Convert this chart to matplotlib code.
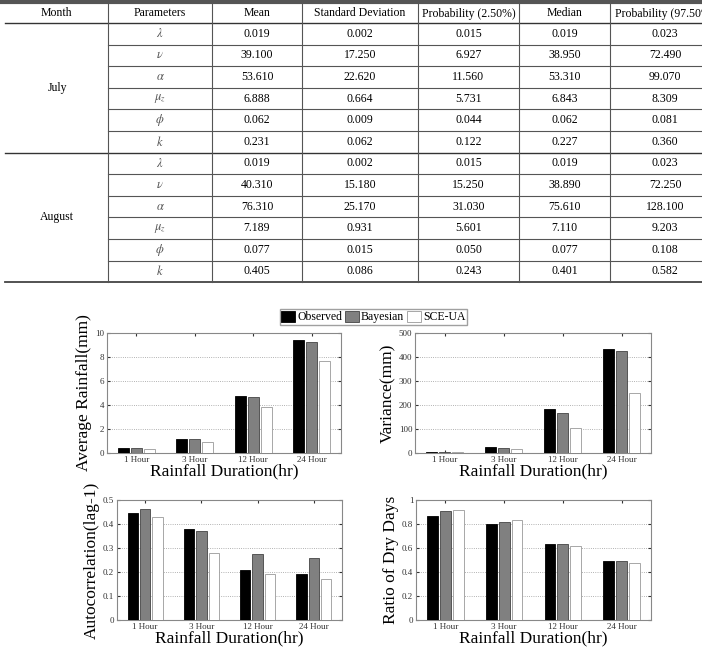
import numpy as np
import matplotlib.pyplot as plt

plt.rcParams['font.family'] = ['Liberation Serif', 'DejaVu Serif']
plt.rcParams['mathtext.fontset'] = 'stix'

# tabela de parametros
col_titles = ['Month', 'Parameters', 'Mean', 'Standard Deviation', 'Probability (2.50%)', 'Median', 'Probability (97.50%)']
months = ['July', 'August']
params = [r'$\lambda$', r'$\nu$', r'$\alpha$', r'$\mu_z$', r'$\phi$', r'$k$']
july_vals = [
    ['0.019', '0.002', '0.015', '0.019', '0.023'],
    ['39.100', '17.250', '6.927', '38.950', '72.490'],
    ['53.610', '22.620', '11.560', '53.310', '99.070'],
    ['6.888', '0.664', '5.731', '6.843', '8.309'],
    ['0.062', '0.009', '0.044', '0.062', '0.081'],
    ['0.231', '0.062', '0.122', '0.227', '0.360'],
]
august_vals = [
    ['0.019', '0.002', '0.015', '0.019', '0.023'],
    ['40.310', '15.180', '15.250', '38.890', '72.250'],
    ['76.310', '25.170', '31.030', '75.610', '128.100'],
    ['7.189', '0.931', '5.601', '7.110', '9.203'],
    ['0.077', '0.015', '0.050', '0.077', '0.108'],
    ['0.405', '0.086', '0.243', '0.401', '0.582'],
]

# dados dos graficos de barras
duracoes = ['1 Hour', '3 Hour', '12 Hour', '24 Hour']
series = ['Observed', 'Bayesian', 'SCE-UA']
media_obs = [0.40, 1.20, 4.75, 9.45]
media_bay = [0.40, 1.20, 4.65, 9.25]
media_sce = [0.35, 0.95, 3.85, 7.70]
var_obs = [5, 25, 182, 432]
var_bay = [4, 22, 165, 427]
var_sce = [4, 17, 105, 250]
auto_obs = [0.447, 0.380, 0.207, 0.193]
auto_bay = [0.463, 0.372, 0.275, 0.260]
auto_sce = [0.430, 0.280, 0.190, 0.170]
seco_obs = [0.87, 0.80, 0.635, 0.49]
seco_bay = [0.91, 0.815, 0.635, 0.495]
seco_sce = [0.92, 0.83, 0.615, 0.475]

W, H = 702, 653
fig = plt.figure(figsize=(W / 100, H / 100), dpi=100)

# ---- tabela desenhada em coordenadas de pixel ----
tab = fig.add_axes([0, 0, 1, 1])
tab.set_xlim(0, W)
tab.set_ylim(H, 0)
tab.axis('off')

col_edges = [5, 108, 212, 302, 418, 519, 610, 720]
top, head_bot, row_h = 2, 23, 21.6
bottom = head_bot + 12 * row_h

tab.plot([0, W], [top, top], color='#555555', lw=3, clip_on=False)
tab.plot([5, W], [head_bot, head_bot], color='#333333', lw=1)
tab.plot([5, W], [head_bot + 6 * row_h, head_bot + 6 * row_h], color='#333333', lw=1)
tab.plot([5, W], [bottom, bottom], color='#444444', lw=1.3)
for i in range(1, 12):
    if i == 6:
        continue
    y = head_bot + i * row_h
    tab.plot([108, W], [y, y], color='#555555', lw=0.8)
for x in col_edges[1:-1]:
    tab.plot([x, x], [top + 1, bottom], color='#555555', lw=0.8)

for j, t in enumerate(col_titles):
    xc = (col_edges[j] + col_edges[j + 1]) / 2
    tab.text(xc, (top + head_bot) / 2 + 1, t, ha='center', va='center', fontsize=8.5)

for m, (mes, vals) in enumerate(zip(months, [july_vals, august_vals])):
    y0 = head_bot + m * 6 * row_h
    tab.text(57, y0 + 3 * row_h, mes, ha='center', va='center', fontsize=8.5)
    for i in range(6):
        yc = y0 + (i + 0.5) * row_h
        tab.text(160, yc, params[i], ha='center', va='center', fontsize=9, color='#555555')
        for j, v in enumerate(vals[i]):
            xc = (col_edges[j + 2] + col_edges[j + 3]) / 2
            tab.text(xc, yc, v, ha='center', va='center', fontsize=8.5)

# ---- graficos ----
def ax_pos(x0, x1, y0, y1):
    return [x0 / W, 1 - y1 / H, (x1 - x0) / W, (y1 - y0) / H]

paineis = [
    (ax_pos(107, 341, 333, 453), [media_obs, media_bay, media_sce], 10, [0, 2, 4, 6, 8, 10], 'Average Rainfall(mm)'),
    (ax_pos(415, 651, 333, 453), [var_obs, var_bay, var_sce], 500, [0, 100, 200, 300, 400, 500], 'Variance(mm)'),
    (ax_pos(117, 342, 500, 620), [auto_obs, auto_bay, auto_sce], 0.5, [0, 0.1, 0.2, 0.3, 0.4, 0.5], 'Autocorrelation(lag-1)'),
    (ax_pos(416, 651, 500, 620), [seco_obs, seco_bay, seco_sce], 1, [0, 0.2, 0.4, 0.6, 0.8, 1], 'Ratio of Dry Days'),
]
cores = ['black', '#808080', 'white']
bordas = ['black', '#444444', '#999999']
largura = 0.185
offs = [-0.22, 0, 0.22]
x = np.arange(1, 5)

for pos, dados, ymax, yt, ylab in paineis:
    ax = fig.add_axes(pos)
    for k in range(3):
        ax.bar(x + offs[k], dados[k], width=largura, color=cores[k], edgecolor=bordas[k], lw=0.6,
               label=series[k], zorder=3)
    ax.set_xlim(0.5, 4.5)
    ax.set_ylim(0, ymax)
    ax.set_yticks(yt)
    ax.set_yticklabels([('%g' % v) for v in yt])
    ax.set_xticks(x)
    ax.set_xticklabels(duracoes)
    ax.yaxis.grid(True, linestyle=':', color='#999999', lw=0.6, zorder=0)
    ax.tick_params(direction='in', top=True, right=True, length=2, labelsize=6.5, pad=2, colors='#333333')
    for s in ax.spines.values():
        s.set_color('#888888')
        s.set_linewidth(0.8)
    ax.set_ylabel(ylab, fontsize=12.5, labelpad=2)
    ax.set_xlabel('Rainfall Duration(hr)', fontsize=12.5, labelpad=0)
    if ylab == 'Average Rainfall(mm)':
        handles, labels = ax.get_legend_handles_labels()

fig.legend(handles, labels, loc='center', bbox_to_anchor=(373.5 / W, 1 - 317 / H), ncol=3,
           fontsize=8.5, frameon=True, fancybox=False, edgecolor='#888888', handlelength=1.2,
           handleheight=1.1, handletextpad=0.15, columnspacing=0.25, borderpad=0.15, borderaxespad=0)

fig.savefig('out.png', dpi=100)
